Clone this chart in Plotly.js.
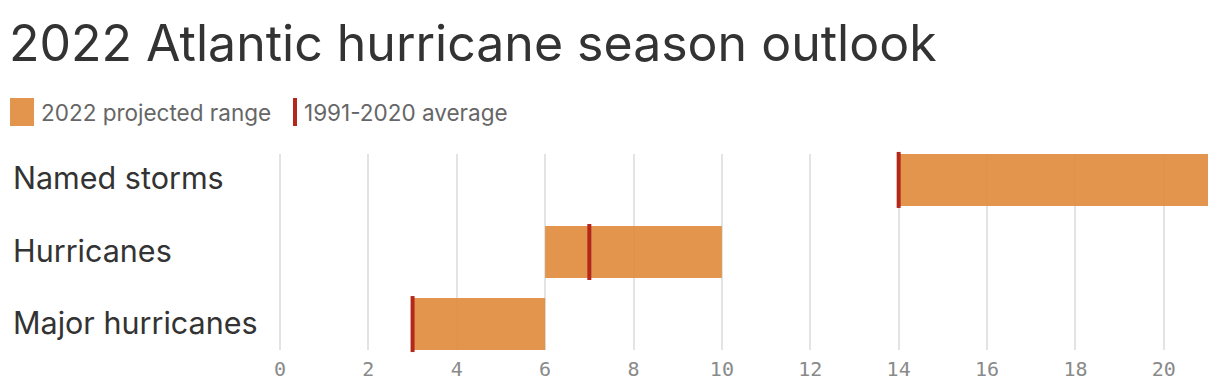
<!DOCTYPE html>
<html>
<head>
<meta charset="utf-8">
<script src="https://cdn.plot.ly/plotly-3.0.1.min.js"></script>
<style>html,body{margin:0;padding:0;background:#fff;}#chart{width:1220px;height:390px;}</style>
</head>
<body>
<div id="chart"></div>
<script>
const categories = ["Named storms", "Hurricanes", "Major hurricanes"];
const rangeLow = [14, 6, 3];
const rangeHigh = [21, 10, 6];
const average = [14, 7, 3];
const tickValues = [0, 2, 4, 6, 8, 10, 12, 14, 16, 18, 20];

const titleFont = "Inter, 'Noto Sans', sans-serif";
const ORANGE = "rgba(225,139,62,0.92)";
const RED = "#B3281A";

const barTrace = {
  type: "bar",
  orientation: "h",
  y: categories,
  base: rangeLow,
  x: rangeHigh.map((h, i) => h - rangeLow[i]),
  width: 0.72,
  marker: {color: ORANGE, line: {width: 0}},
  hoverinfo: "skip",
  showlegend: false
};

const avgTrace = {
  type: "scatter",
  mode: "markers",
  x: average,
  y: categories,
  cliponaxis: false,
  marker: {symbol: "line-ns-open", size: 40, color: RED, line: {color: RED, width: 4}},
  hoverinfo: "skip",
  showlegend: false
};

const plotL = 280, plotW = 928;
const toPaperX = px => (px - plotL) / plotW;

const annotations = categories.map((c, i) => ({
  text: c, xref: "paper", yref: "y", x: toPaperX(11), y: c, yshift: 2,
  xanchor: "left", yanchor: "middle", showarrow: false,
  font: {family: titleFont, size: 30.5, color: "#333"}
}));
annotations.push({
  text: "2022 projected range", xref: "paper", yref: "paper",
  x: toPaperX(39), y: 1 + (154 - 112) / 196, xanchor: "left", yanchor: "middle",
  showarrow: false, font: {family: titleFont, size: 22.5, color: "#666"}
});
annotations.push({
  text: "1991-2020 average", xref: "paper", yref: "paper",
  x: toPaperX(302), y: 1 + (154 - 112) / 196, xanchor: "left", yanchor: "middle",
  showarrow: false, font: {family: titleFont, size: 22.5, color: "#666"}
});

const shapes = [
  {type: "rect", xref: "paper", yref: "paper",
   x0: toPaperX(10), x1: toPaperX(34), y0: 1 + (154 - 126) / 196, y1: 1 + (154 - 98) / 196,
   fillcolor: "#E3944D", line: {width: 0}},
  {type: "rect", xref: "paper", yref: "paper",
   x0: toPaperX(293), x1: toPaperX(297), y0: 1 + (154 - 126) / 196, y1: 1 + (154 - 98) / 196,
   fillcolor: RED, line: {width: 0}}
];

const layout = {
  width: 1220, height: 390,
  margin: {l: plotL, r: 12, t: 154, b: 40, pad: 0},
  paper_bgcolor: "#fff", plot_bgcolor: "#fff",
  title: {text: "2022 Atlantic hurricane season outlook", x: 9 / 1220, xanchor: "left",
          y: 1 - 43 / 390, yanchor: "middle", xref: "container", yref: "container",
          font: {family: titleFont, size: 50, color: "#333"}},
  xaxis: {range: [0, 21], tickvals: tickValues, ticktext: tickValues.map(String),
          showgrid: true, gridcolor: "#e3e3e3", gridwidth: 2,
          zeroline: true, zerolinecolor: "#e3e3e3", zerolinewidth: 2,
          showline: false, ticks: "", fixedrange: true, ticklabelstandoff: 5,
          tickfont: {family: "'DejaVu Sans Mono', monospace", size: 20, color: "#8a8a8a"}},
  yaxis: {type: "category", categoryorder: "array", categoryarray: categories,
          range: [2.36, -0.36], showticklabels: false, showgrid: false, zeroline: false,
          showline: false, ticks: "", fixedrange: true},
  barmode: "overlay",
  showlegend: false,
  annotations: annotations,
  shapes: shapes
};

Plotly.newPlot("chart", [barTrace, avgTrace], layout, {displayModeBar: false, staticPlot: true});
</script>
</body>
</html>
